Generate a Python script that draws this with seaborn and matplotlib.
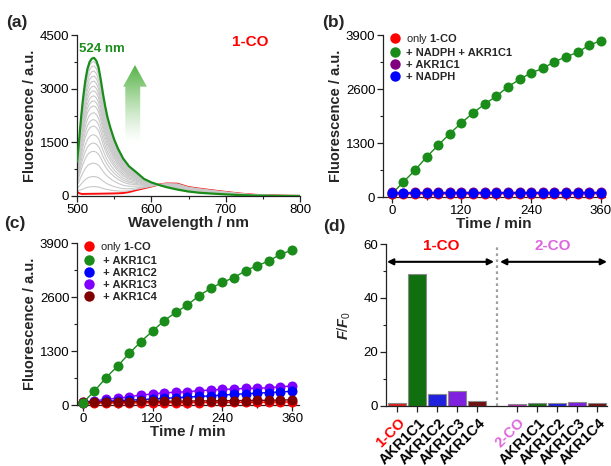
import numpy as np
import matplotlib
matplotlib.use('Agg')
import matplotlib.pyplot as plt
import matplotlib.transforms as mtransforms
from matplotlib.patches import Polygon
from matplotlib.lines import Line2D
from matplotlib.ticker import MultipleLocator
import seaborn as sns

# ---- (a) emission spectra of 1-CO ----
wavelength = [500, 502, 504, 506, 508, 511, 514, 517, 520, 523, 526, 529, 532, 535,
              538, 541, 545, 550, 555, 562, 570, 580, 590, 600, 610, 620, 635, 650,
              665, 680, 700, 720, 740, 760, 780, 800]
spec_final = [960, 1350, 1850, 2300, 2700, 3200, 3550, 3750, 3840, 3860, 3780, 3600,
              3250, 2850, 2500, 2200, 1900, 1580, 1330, 1050, 830, 660, 480, 380, 310,
              250, 180, 125, 90, 70, 45, 25, 12, 6, 3, 0]
spec_start = [120, 90, 70, 60, 56, 58, 60, 61, 62, 62, 63, 64, 65, 66, 67, 68, 70, 72,
              75, 82, 110, 165, 215, 265, 320, 350, 345, 250, 205, 165, 115, 68, 33,
              18, 8, 4]
# peak heights (524 nm) of the intermediate grey spectra
gray_peaks = [260, 540, 910, 1240, 1470, 1700, 1940, 2120, 2310, 2500, 2640, 2780,
              2920, 3050, 3190, 3330, 3470, 3610, 3730]

# ---- (b), (c) time course at 524 nm ----
time_min = [0, 20, 40, 60, 80, 100, 120, 140, 160, 180, 200, 220, 240, 260, 280, 300,
            320, 340, 360]
b_only = [75, 72, 74, 75, 73, 76, 75, 74, 76, 75, 77, 76, 75, 78, 76, 77, 78, 77, 79]
b_nadph_akr1c1 = [70, 362, 643, 965, 1246, 1527, 1785, 2026, 2235, 2428, 2653, 2830,
                  2990, 3095, 3256, 3376, 3481, 3658, 3762]
b_akr1c1 = [110, 108, 110, 111, 109, 110, 112, 110, 111, 110, 112, 111, 110, 112, 111,
            113, 112, 111, 113]
b_nadph = [95, 93, 95, 94, 96, 95, 94, 96, 95, 95, 97, 96, 95, 96, 97, 96, 98, 97, 98]

c_only = [45, 46, 48, 50, 50, 52, 54, 55, 56, 58, 60, 61, 62, 64, 65, 66, 68, 70, 72]
c_akr1c1 = [50, 337, 658, 939, 1244, 1525, 1781, 2030, 2231, 2407, 2632, 2808, 2953,
            3065, 3234, 3354, 3466, 3627, 3731]
c_akr1c2 = [60, 75, 90, 105, 115, 130, 145, 160, 175, 190, 205, 220, 240, 255, 270,
            285, 300, 315, 330]
c_akr1c3 = [70, 100, 136, 160, 200, 241, 265, 297, 305, 321, 345, 361, 377, 385, 401,
            401, 417, 441, 457]
c_akr1c4 = [75, 70, 75, 78, 80, 85, 88, 90, 93, 95, 98, 100, 103, 105, 108, 110, 113,
            118, 125]

# ---- (d) F/F0 ----
bar_keys = ['1-CO', 'AKR1C1 a', 'AKR1C2 a', 'AKR1C3 a', 'AKR1C4 a',
            '2-CO', 'AKR1C1 b', 'AKR1C2 b', 'AKR1C3 b', 'AKR1C4 b']
bar_labels = ['1-CO', 'AKR1C1', 'AKR1C2', 'AKR1C3', 'AKR1C4',
              '2-CO', 'AKR1C1', 'AKR1C2', 'AKR1C3', 'AKR1C4']
bar_values = [1.0, 49.0, 4.6, 5.6, 1.8, 0.9, 1.0, 1.2, 1.5, 1.0]
bar_colors = ['#ff0000', '#008000', '#0000ff', '#8000ff', '#800000',
              '#e000e0', '#008000', '#0000ff', '#8000ff', '#800000']

green = '#1a8c1a'
orchid = '#dd66dd'

sns.set_style('ticks')
plt.rcParams['font.family'] = ['Liberation Sans', 'DejaVu Sans']
plt.rcParams['mathtext.fontset'] = 'custom'
plt.rcParams['mathtext.rm'] = 'Liberation Sans'
plt.rcParams['mathtext.it'] = 'Liberation Sans:italic:bold'
plt.rcParams['mathtext.bf'] = 'Liberation Sans:bold'
plt.rcParams['axes.edgecolor'] = '#222222'
plt.rcParams['axes.linewidth'] = 0.9

W, H = 611, 466
fig = plt.figure(figsize=(W / 100, H / 100), dpi=100)


def add_ax(l, t, r, b):
    return fig.add_axes([l / W, 1 - b / H, (r - l) / W, (b - t) / H])


def style(ax):
    sns.despine(ax=ax)
    ax.tick_params(which='major', direction='out', length=4, width=0.9,
                   labelsize=9.5, pad=1.5, colors='#222222', labelcolor='black')
    ax.tick_params(which='minor', direction='out', length=2, width=0.8,
                   colors='#222222')


ax_a = add_ax(77, 35, 300, 196)
ax_b = add_ax(383, 35, 605, 197)
ax_c = add_ax(77, 243, 299, 405)
ax_d = add_ax(386, 244, 607, 406)

# ---- panel a ----
wl = np.array(wavelength, float)
s_end = np.array(spec_final, float)
s_0 = np.array(spec_start, float)
r524 = np.interp(524, wl, s_0)
g524 = np.interp(524, wl, s_end)
sns.lineplot(x=wl, y=s_0, ax=ax_a, color='#ff1010', lw=1.4, zorder=1.5)
for p in gray_peaks:
    f = (p - r524) / (g524 - r524)
    sns.lineplot(x=wl, y=s_0 + f * (s_end - s_0), ax=ax_a, color='#c8c8c8',
                 lw=0.8, zorder=2)
sns.lineplot(x=wl, y=s_end, ax=ax_a, color=green, lw=1.6, zorder=3)

# gradient arrow
arrow = Polygon([(565, 1480), (565, 3055), (562, 3055), (578, 3660), (594, 3055),
                 (585, 3055), (585, 1480)], closed=True, transform=ax_a.transData,
                facecolor='none', edgecolor='none')
ax_a.add_patch(arrow)
grad = np.zeros((100, 2, 4))
grad[..., 0] = 0.33
grad[..., 1] = 0.70
grad[..., 2] = 0.27
grad[..., 3] = np.linspace(1, 0, 100)[:, None] ** 1.3
img = ax_a.imshow(grad, extent=(560, 596, 1480, 3660), aspect='auto', origin='upper',
                  zorder=4)
img.set_clip_path(arrow)

ax_a.text(503, 4100, '524 nm', color=green, fontsize=9.5, fontweight='bold',
          va='center', ha='left')
ax_a.text(733, 4300, '1-CO', color='#ff0000', fontsize=11, fontweight='bold',
          va='center', ha='center')
ax_a.set_xlim(500, 800)
ax_a.set_ylim(0, 4500)
ax_a.xaxis.set_major_locator(MultipleLocator(100))
ax_a.xaxis.set_minor_locator(MultipleLocator(50))
ax_a.yaxis.set_major_locator(MultipleLocator(1500))
ax_a.yaxis.set_minor_locator(MultipleLocator(750))
ax_a.set_xlabel('Wavelength / nm', fontsize=11, fontweight='bold', labelpad=0)
ax_a.set_ylabel('Fluorescence / a.u.', fontsize=10.5, fontweight='bold', labelpad=2)
style(ax_a)


# ---- panels b, c ----
def series(ax, y, color, z):
    sns.lineplot(x=time_min, y=y, ax=ax, color=color, lw=1.0, marker='o',
                 markersize=7.2, markeredgewidth=0, zorder=z, clip_on=False)


series(ax_b, b_nadph_akr1c1, green, 2)
series(ax_b, b_only, '#ff0000', 3)
series(ax_b, b_akr1c1, '#800080', 4)
series(ax_b, b_nadph, '#0000ff', 5)
b_entries = [('#ff0000', r'$\mathrm{only}$ 1-CO'), (green, '+ NADPH + AKR1C1'),
             ('#800080', '+ AKR1C1'), ('#0000ff', '+ NADPH')]

series(ax_c, c_akr1c3, '#8000ff', 2)
series(ax_c, c_akr1c2, '#0000ff', 3)
series(ax_c, c_only, '#ff0000', 4)
series(ax_c, c_akr1c4, '#800000', 5)
series(ax_c, c_akr1c1, green, 6)
c_entries = [('#ff0000', r'$\mathrm{only}$ 1-CO'), (green, ' + AKR1C1'),
             ('#0000ff', ' + AKR1C2'), ('#8000ff', ' + AKR1C3'),
             ('#800000', ' + AKR1C4')]

for ax, entries, x0 in [(ax_b, b_entries, -15), (ax_c, c_entries, -10)]:
    handles = [Line2D([], [], ls='none', marker='o', markersize=7.5,
                      markeredgewidth=0, color=c) for c, _ in entries]
    ax.legend(handles, [t for _, t in entries], loc='upper left',
              bbox_to_anchor=(0.028, 1.02), frameon=False, borderpad=0,
              borderaxespad=0, handlelength=1.0, handletextpad=0.5,
              labelspacing=0.18, prop={'weight': 'bold', 'size': 8})
    ax.set_xlim(x0, x0 + 382)
    ax.set_ylim(0, 3900)
    ax.set_xticks([0, 120, 240, 360])
    ax.xaxis.set_minor_locator(MultipleLocator(60))
    ax.set_yticks([0, 1300, 2600, 3900])
    ax.yaxis.set_minor_locator(MultipleLocator(650))
    ax.set_xlabel('Time / min', fontsize=11, fontweight='bold', labelpad=0)
    ax.set_ylabel('Fluorescence / a.u.', fontsize=10.5, fontweight='bold', labelpad=2)
    style(ax)

# ---- panel d ----
order = bar_keys[:5] + ['gap'] + bar_keys[5:]
sns.barplot(x=bar_keys, y=bar_values, order=order, hue=bar_keys,
            palette=dict(zip(bar_keys, bar_colors)), legend=False, width=0.86,
            edgecolor='#8a8a8a', linewidth=0.8, ax=ax_d, zorder=2)
ax_d.axvline(5, color='#a0a0a0', ls=(0, (1.2, 1.5)), lw=1.6, zorder=1)
for xa, xb in [(-0.5, 4.85), (5.15, 10.5)]:
    ax_d.annotate('', xy=(xb, 53.4), xytext=(xa, 53.4), annotation_clip=False,
                  arrowprops=dict(arrowstyle='<|-|>', color='black', lw=1.5,
                                  mutation_scale=9, shrinkA=0, shrinkB=0))
ax_d.text(2.2, 59.3, '1-CO', color='#ff0000', fontsize=11, fontweight='bold',
          ha='center', va='center')
ax_d.text(7.8, 59.3, '2-CO', color=orchid, fontsize=11, fontweight='bold',
          ha='center', va='center')
style(ax_d)
ax_d.set_xlim(-0.55, 10.5)
ax_d.set_ylim(0, 60)
ax_d.yaxis.set_major_locator(MultipleLocator(20))
ax_d.yaxis.set_minor_locator(MultipleLocator(10))
ax_d.set_xticks([0, 1, 2, 3, 4, 6, 7, 8, 9, 10])
ax_d.set_xticklabels(bar_labels, rotation=45, ha='right', va='top',
                     rotation_mode='anchor', fontsize=10.5, fontweight='bold')
shift = mtransforms.ScaledTranslation(1 / 100, -2 / 100, fig.dpi_scale_trans)
for lab, txt in zip(ax_d.get_xticklabels(), bar_labels):
    lab.set_transform(lab.get_transform() + shift)
    if txt == '1-CO':
        lab.set_color('#ff0000')
    elif txt == '2-CO':
        lab.set_color(orchid)
ax_d.set_xlabel('')
ax_d.set_ylabel(r'$\mathit{F/F}_{\mathit{0}}$', fontsize=10.5, labelpad=8)

# panel letters
for x, y, t in [(6, 22, '(a)'), (322, 22, '(b)'), (4, 224, '(c)'), (323, 227, '(d)')]:
    fig.text(x / W, 1 - y / H, t, fontsize=12.5, fontweight='bold', va='center',
             ha='left')

fig.savefig('out.png', dpi=100)
